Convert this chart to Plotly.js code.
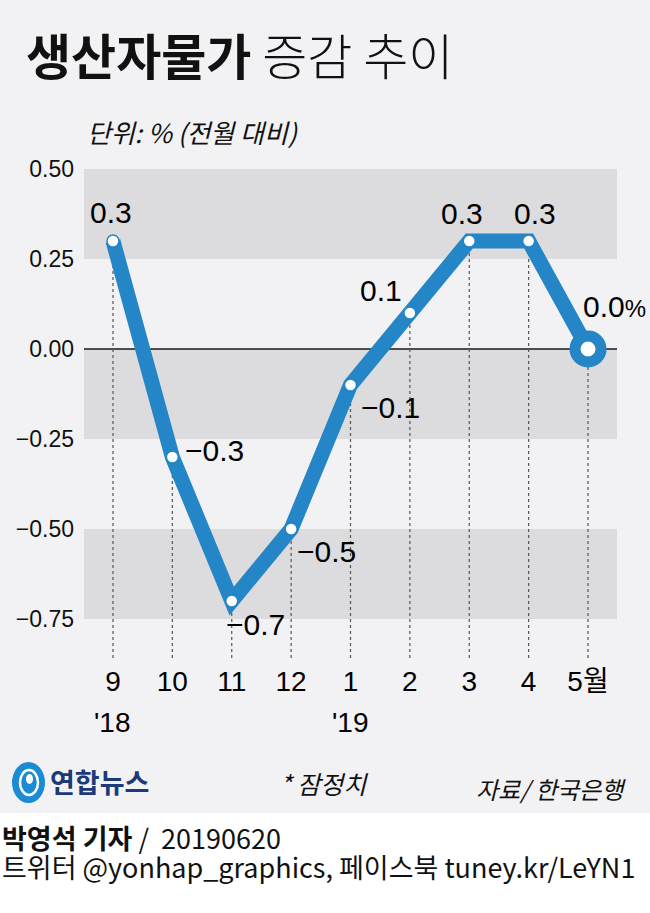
<!DOCTYPE html>
<html><head><meta charset="utf-8">
<script src="https://cdn.plot.ly/plotly-3.0.1.min.js"></script>
<style>body{margin:0;padding:0;background:#fff}</style>
</head><body><div id="chart" style="width:650px;height:913px"></div>
<script>
// ---- data ----
const months = ['9','10','11','12','1','2','3','4','5월'];
const values = [0.3, -0.3, -0.7, -0.5, -0.1, 0.1, 0.3, 0.3, 0.0];
const valueLabels = ['0.3','−0.3','−0.7','−0.5','−0.1','0.1','0.3','0.3','0.0'];
const lastLabelUnit = '%';
const yearMonths = ['9','1'];
const yearLabels = ["'18","'19"];
const yTickVals = [0.5, 0.25, 0, -0.25, -0.5, -0.75];
const yTickText = ['0.50','0.25','0.00','−0.25','−0.50','−0.75'];
const bandLows = [0.25, -0.25, -0.75];
const bandHighs = [0.5, 0, -0.5];

// ---- style ----
const LAT = '"Liberation Sans", Arial, "Noto Sans CJK KR", sans-serif';
const KR = '"Noto Sans CJK KR", "Noto Sans", sans-serif';
const BLUE = '#2485c7';
const L = 84, R = 617, T = 169, B = 660, W = 650, H = 913;
const px = x => (x - L) / (R - L);
const py = y => (B - y) / (B - T);
const yRange = [0.5 - (B - T) / 360, 0.5];
const xRange = [-0.488, 8.488];

// label placement (style only)
const labelPlace = [
  {xa:'center', xs:-2, ys:29},
  {xa:'left', xs:11, ys:7},
  {xa:'left', xs:-8, ys:-23},
  {xa:'left', xs:4, ys:-22},
  {xa:'left', xs:8, ys:-22},
  {xa:'right', xs:-6, ys:23},
  {xa:'center', xs:-7, ys:28},
  {xa:'center', xs:6, ys:28},
  {xa:'left', xs:-7, ys:43}
];

// dotted drop lines built from data
const dropX = [], dropY = [];
months.forEach((m, i) => { dropX.push(i, i, null); dropY.push(values[i], yRange[0], null); });
const idx = months.map((m, i) => i);

const last = months.length - 1;
const traces = [
  {x: dropX, y: dropY, mode: 'lines', line: {color: '#555', width: 1.2, dash: 'dot'}, hoverinfo: 'skip', showlegend: false},
  {x: idx, y: values, mode: 'lines+markers', line: {color: BLUE, width: 15},
   marker: {size: 12, color: '#fff', line: {color: BLUE, width: 1.5}}, showlegend: false, cliponaxis: false},
  {x: [idx[last]], y: [values[last]], mode: 'markers',
   marker: {size: 26, color: '#fff', line: {color: BLUE, width: 11}}, showlegend: false, cliponaxis: false}
];

const shapes = [
  {type: 'rect', xref: 'paper', yref: 'paper', x0: px(0), x1: px(W), y0: py(813), y1: py(H), fillcolor: '#ffffff', line: {width: 0}, layer: 'below'}
];
bandLows.forEach((lo, i) => shapes.push({type: 'rect', xref: 'paper', yref: 'y', x0: 0, x1: 1, y0: lo, y1: bandHighs[i], fillcolor: '#dcdcde', line: {width: 0}, layer: 'below'}));
shapes.push({type: 'line', xref: 'paper', yref: 'y', x0: 0, x1: 1, y0: 0, y1: 0, line: {color: '#1a1a1a', width: 1.3}, layer: 'below'});
// logo mark
shapes.push({type: 'circle', xref: 'paper', yref: 'paper', x0: px(12), x1: px(45), y0: py(762), y1: py(803), fillcolor: '#1b8bd6', line: {width: 0}});
shapes.push({type: 'circle', xref: 'paper', yref: 'paper', x0: px(20), x1: px(38), y0: py(770), y1: py(795), fillcolor: 'rgba(0,0,0,0)', line: {color: '#ffffff', width: 2.5}});
shapes.push({type: 'circle', xref: 'paper', yref: 'paper', x0: px(26), x1: px(33), y0: py(774), y1: py(784), fillcolor: '#ffffff', line: {width: 0}});

const annotations = [];
months.forEach((m, i) => {
  const p = labelPlace[i];
  const t = i === last ? valueLabels[i] + '<span style="font-size:24px">' + lastLabelUnit + '</span>' : valueLabels[i];
  annotations.push({x: i, y: values[i], xref: 'x', yref: 'y', text: t, showarrow: false,
    xanchor: p.xa, yanchor: 'middle', xshift: p.xs, yshift: p.ys,
    font: {family: LAT, size: 30, color: '#000'}});
});
yearMonths.forEach((m, i) => annotations.push({x: months.indexOf(m), y: py(722), xref: 'x', yref: 'paper', text: yearLabels[i], showarrow: false,
  xanchor: 'center', yanchor: 'middle', font: {family: LAT, size: 28, color: '#000'}}));

const txt = (x, y, text, size, opts) => Object.assign({xref: 'paper', yref: 'paper', x: px(x), y: py(y), text: text, showarrow: false,
  xanchor: 'left', yanchor: 'middle', font: {family: KR, size: size, color: '#111'}}, opts || {});
annotations.push(txt(24, 53, '<b>생산자물가</b> 증감 추이', 49, {font: {family: KR, size: 49, color: '#111', weight: 300}}));
annotations.push(txt(85, 131, '단위: % (전월 대비)', 26, {font: {family: KR, size: 26, color: '#111', style: 'italic'}}));
annotations.push(txt(48, 781, '<b>연합뉴스</b>', 27, {font: {family: KR, size: 27, color: '#1b3a78'}}));
annotations.push(txt(278, 783, '* 잠정치', 25, {font: {family: KR, size: 25, color: '#111', style: 'italic'}}));
annotations.push(txt(474, 788, '자료/ 한국은행', 24, {font: {family: KR, size: 24, color: '#111', style: 'italic'}}));
annotations.push(txt(0, 837, '<b>박영석 기자</b> /  20190620', 27));
annotations.push(txt(0, 866, '트위터 @yonhap_graphics, 페이스북 tuney.kr/LeYN1', 27));

const layout = {
  width: W, height: H,
  margin: {l: L, r: W - R, t: T, b: H - B, pad: 0},
  paper_bgcolor: '#f2f2f4', plot_bgcolor: 'rgba(0,0,0,0)',
  showlegend: false,
  xaxis: {range: xRange, tickvals: idx, ticktext: months, showgrid: false, zeroline: false, showline: false, ticks: '',
    tickfont: {family: LAT, size: 28, color: '#000'}, ticklabelstandoff: 2, fixedrange: true},
  yaxis: {range: yRange, tickvals: yTickVals, ticktext: yTickText, showgrid: false, zeroline: false, showline: false, ticks: '',
    tickfont: {family: LAT, size: 23, color: '#111'}, ticklabelstandoff: 9, fixedrange: true},
  shapes: shapes, annotations: annotations
};
Plotly.newPlot('chart', traces, layout, {displayModeBar: false, staticPlot: true});
</script></body></html>
